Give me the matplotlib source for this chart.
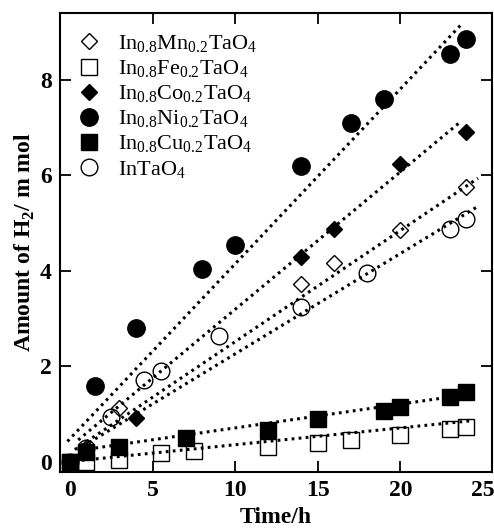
import matplotlib.pyplot as plt
from matplotlib.lines import Line2D

plt.rcParams['font.family'] = ['Liberation Serif', 'DejaVu Serif']
plt.rcParams['mathtext.fontset'] = 'custom'
plt.rcParams['mathtext.rm'] = 'Liberation Serif'
plt.rcParams['mathtext.bf'] = 'Liberation Serif:bold'

# data (time in h, H2 in mmol)
mn_t = [0, 1, 3, 14, 16, 20, 24]
mn_h2 = [0, 0.3, 1.12, 3.72, 4.17, 4.86, 5.75]

fe_t = [0, 1, 3, 5.5, 7.5, 12, 15, 17, 20, 23, 24]
fe_h2 = [0, 0.0, 0.05, 0.18, 0.23, 0.32, 0.4, 0.47, 0.56, 0.68, 0.74]

co_t = [0, 1, 4, 14, 16, 20, 24]
co_h2 = [0, 0.25, 0.92, 4.3, 4.87, 6.24, 6.9]

ni_t = [1.5, 4, 8, 10, 14, 17, 19, 23, 24]
ni_h2 = [1.6, 2.8, 4.05, 4.55, 6.2, 7.1, 7.6, 8.55, 8.85]

cu_t = [0, 1, 3, 7, 12, 15, 19, 20, 23, 24]
cu_h2 = [0, 0.2, 0.32, 0.5, 0.67, 0.9, 1.07, 1.15, 1.37, 1.46]

in_t = [0, 1, 2.5, 4.5, 5.5, 9, 14, 18, 23, 24]
in_h2 = [0, 0.3, 0.94, 1.71, 1.9, 2.63, 3.25, 3.96, 4.88, 5.09]

# fitted dotted lines (start and end points)
ni_fit_t = [-0.15, 23.8]
ni_fit_h2 = [0.43, 9.2]
co_fit_t = [0.5, 23.6]
co_fit_h2 = [0.46, 7.11]
mn_fit_t = [0.3, 24.7]
mn_fit_h2 = [0.26, 5.94]
in_fit_t = [0.8, 24.6]
in_fit_h2 = [0.33, 5.33]
cu_fit_t = [0.7, 23.8]
cu_fit_h2 = [0.25, 1.4]
fe_fit_t = [0.3, 24.2]
fe_fit_h2 = [0.02, 0.86]

labels = [r'In$_{0.8}$Mn$_{0.2}$TaO$_4$', r'In$_{0.8}$Fe$_{0.2}$TaO$_4$',
          r'In$_{0.8}$Co$_{0.2}$TaO$_4$', r'In$_{0.8}$Ni$_{0.2}$TaO$_4$',
          r'In$_{0.8}$Cu$_{0.2}$TaO$_4$', r'InTaO$_4$']

fig = plt.figure(figsize=(4.94, 5.32), dpi=100)
ax = fig.add_axes([0.1215, 0.1128, 0.8745, 0.8628])

dots = dict(color='black', lw=2.2, linestyle=(0, (0.9, 1.4)), zorder=3)
for t, h in [(ni_fit_t, ni_fit_h2), (co_fit_t, co_fit_h2), (mn_fit_t, mn_fit_h2),
             (in_fit_t, in_fit_h2), (cu_fit_t, cu_fit_h2), (fe_fit_t, fe_fit_h2)]:
    ax.plot(t, h, **dots)

ax.plot(in_t, in_h2, 'o', ms=12, mfc='none', mec='black', mew=1.0, zorder=2)
ax.plot(fe_t, fe_h2, 's', ms=11, mfc='none', mec='black', mew=1.0, zorder=2)
ax.plot(mn_t, mn_h2, 'D', ms=8, mfc='none', mec='black', mew=1.0, zorder=2)
ax.plot(ni_t, ni_h2, 'o', ms=12.5, color='black', zorder=4)
ax.plot(co_t, co_h2, 'D', ms=8.5, color='black', zorder=4)
ax.plot(cu_t, cu_h2, 's', ms=11, color='black', zorder=4)

handles = [
    Line2D([], [], ls='none', marker='D', ms=8, mfc='none', mec='black'),
    Line2D([], [], ls='none', marker='s', ms=11, mfc='none', mec='black'),
    Line2D([], [], ls='none', marker='D', ms=8.5, color='black'),
    Line2D([], [], ls='none', marker='o', ms=12.5, color='black'),
    Line2D([], [], ls='none', marker='s', ms=11, color='black'),
    Line2D([], [], ls='none', marker='o', ms=12, mfc='none', mec='black'),
]
ax.legend(handles, labels, loc='upper left', bbox_to_anchor=(0.005, 0.99),
          frameon=False, fontsize=16, handlelength=1.0, handletextpad=0.8,
          labelspacing=0.16, borderaxespad=0.3)

ax.set_xlim(-0.6, 25.55)
ax.set_ylim(-0.21, 9.4)
ax.set_xticks([0, 5, 10, 15, 20, 25])
ax.set_yticks([0, 2, 4, 6, 8])
ax.tick_params(direction='in', length=8, width=1.3, top=True, right=True,
               labelsize=17, pad=6)
for lab in ax.get_xticklabels() + ax.get_yticklabels():
    lab.set_fontweight('bold')
for tk in [ax.xaxis.get_major_ticks()[0], ax.xaxis.get_major_ticks()[-1],
           ax.yaxis.get_major_ticks()[0]]:
    tk.tick1line.set_visible(False)
    tk.tick2line.set_visible(False)
for sp in ax.spines.values():
    sp.set_linewidth(1.5)

ax.set_xlabel('Time/h', fontsize=17, fontweight='bold', labelpad=4)
ax.set_ylabel(r'Amount of H$_\mathbf{2}$/ m mol', fontsize=17, fontweight='bold', labelpad=2)

fig.savefig('out.png', dpi=100)
